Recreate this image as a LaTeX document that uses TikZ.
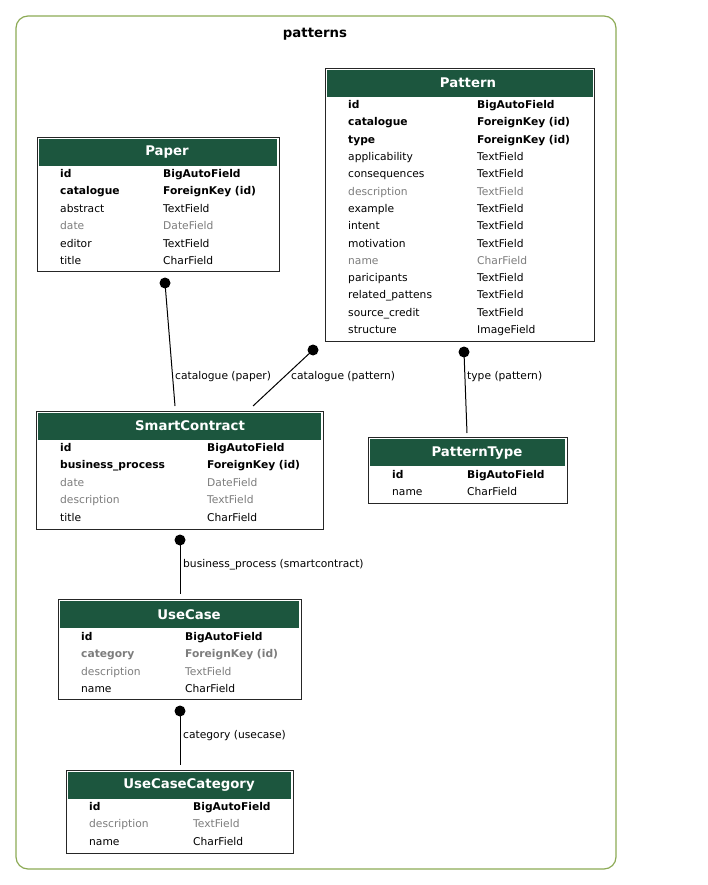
\documentclass[tikz,border=0pt]{standalone}
\usepackage{fontspec}
\setmainfont{DejaVu Sans}
\definecolor{hdrgreen}{RGB}{28,86,62}
\definecolor{clustergreen}{RGB}{140,170,85}
\definecolor{fadegray}{RGB}{125,125,125}
\tikzset{
  tbl/.style = {draw=black!85, line width=1pt, fill=white, inner sep=0pt, anchor=north west},
  hdr/.style = {fill=hdrgreen, inner sep=0pt, anchor=north west, minimum height=27pt},
  title/.style = {text=white, yshift=-1pt, font=\fontsize{13.3}{15}\selectfont\bfseries},
  fld/.style = {anchor=mid west, inner sep=0pt, yshift=-1.8pt, font=\fontsize{10.7}{12}\selectfont},
  key/.style = {fld, font=\fontsize{10.7}{12}\selectfont\bfseries},
  opt/.style = {fld, text=fadegray},
  optkey/.style = {key, text=fadegray},
  dotend/.style = {circle, fill=black, inner sep=0pt, minimum size=11pt},
  lbl/.style = {anchor=mid west, inner sep=0pt, yshift=-1.8pt, font=\fontsize{10.7}{12}\selectfont},
  link/.style = {line width=1pt}
}
\begin{document}
\begin{tikzpicture}[x=1pt, y=-1pt]
  \useasboundingbox (0,0) rectangle (707,885);
  % cluster
  \draw[clustergreen, line width=1.2pt, rounded corners=12pt] (16,16) rectangle (616,869);
  \node[font=\fontsize{13.3}{15}\selectfont\bfseries] (cluster) at (315,34) {patterns};

  % Pattern
  \node[tbl, minimum width=269pt, minimum height=273pt] (pattern) at (325,68) {};
  \node[hdr, minimum width=266pt] (pattern-h) at (327,70) {};
  \node[title] (pattern-t) at (468,82) {Pattern};
  \foreach \n/\t/\s [count=\i] in {id/BigAutoField/key, catalogue/ForeignKey (id)/key,
      type/ForeignKey (id)/key, applicability/TextField/fld, consequences/TextField/fld,
      description/TextField/opt, example/TextField/fld, intent/TextField/fld,
      motivation/TextField/fld, name/CharField/opt, paricipants/TextField/fld,
      related\_pattens/TextField/fld, source\_credit/TextField/fld, structure/ImageField/fld}
  {
    \node[\s] (pattern-n\i) at (348,{104+(\i-1)*17.31}) {\n};
    \node[\s] (pattern-f\i) at (477,{104+(\i-1)*17.31}) {\t};
  }

  % Paper
  \node[tbl, minimum width=242pt, minimum height=134pt] (paper) at (37,137) {};
  \node[hdr, minimum width=238pt] (paper-h) at (39,139) {};
  \node[title] (paper-t) at (167,151) {Paper};
  \foreach \n/\t/\s [count=\i] in {id/BigAutoField/key, catalogue/ForeignKey (id)/key,
      abstract/TextField/fld, date/DateField/opt, editor/TextField/fld, title/CharField/fld}
  {
    \node[\s] (paper-n\i) at (60,{173+(\i-1)*17.4}) {\n};
    \node[\s] (paper-f\i) at (163,{173+(\i-1)*17.4}) {\t};
  }

  % SmartContract
  \node[tbl, minimum width=287pt, minimum height=118pt] (smart) at (36,411) {};
  \node[hdr, minimum width=283pt] (smart-h) at (38,413) {};
  \node[title] (smart-t) at (190,425) {SmartContract};
  \foreach \n/\t/\s [count=\i] in {id/BigAutoField/key, business\_process/ForeignKey (id)/key,
      date/DateField/opt, description/TextField/opt, title/CharField/fld}
  {
    \node[\s] (smart-n\i) at (60,{447+(\i-1)*17.4}) {\n};
    \node[\s] (smart-f\i) at (207,{447+(\i-1)*17.4}) {\t};
  }

  % PatternType
  \node[tbl, minimum width=199pt, minimum height=66pt] (ptype) at (368,437) {};
  \node[hdr, minimum width=195pt] (ptype-h) at (370,439) {};
  \node[title] (ptype-t) at (477,452) {PatternType};
  \foreach \n/\t/\s [count=\i] in {id/BigAutoField/key, name/CharField/fld}
  {
    \node[\s] (ptype-n\i) at (392,{474+(\i-1)*17.4}) {\n};
    \node[\s] (ptype-f\i) at (467,{474+(\i-1)*17.4}) {\t};
  }

  % UseCase
  \node[tbl, minimum width=243pt, minimum height=100pt] (usecase) at (58,599) {};
  \node[hdr, minimum width=239pt] (usecase-h) at (60,601) {};
  \node[title] (usecase-t) at (189,614) {UseCase};
  \foreach \n/\t/\s [count=\i] in {id/BigAutoField/key, category/ForeignKey (id)/optkey,
      description/TextField/opt, name/CharField/fld}
  {
    \node[\s] (usecase-n\i) at (81,{636+(\i-1)*17.4}) {\n};
    \node[\s] (usecase-f\i) at (185,{636+(\i-1)*17.4}) {\t};
  }

  % UseCaseCategory
  \node[tbl, minimum width=227pt, minimum height=83pt] (ucc) at (66,770) {};
  \node[hdr, minimum width=223pt] (ucc-h) at (68,772) {};
  \node[title] (ucc-t) at (189,784) {UseCaseCategory};
  \foreach \n/\t/\s [count=\i] in {id/BigAutoField/key, description/TextField/opt,
      name/CharField/fld}
  {
    \node[\s] (ucc-n\i) at (89,{806+(\i-1)*17.4}) {\n};
    \node[\s] (ucc-f\i) at (193,{806+(\i-1)*17.4}) {\t};
  }

  % relations
  \node[dotend] (paper-d) at (165,283) {};
  \node[dotend] (pattern-d) at (313,350) {};
  \node[dotend] (ptype-d) at (464,352) {};
  \node[dotend] (smart-d) at (180,540) {};
  \node[dotend] (usecase-d) at (180,711) {};
  \coordinate (smart-a) at (175,406);
  \coordinate (smart-b) at (253,406);
  \coordinate (ptype-a) at (467,433);
  \coordinate (usecase-a) at (180,594);
  \coordinate (ucc-a) at (180,765);

  \draw[link] (paper-d.center) -- (smart-a);
  \draw[link] (pattern-d.center) -- (smart-b);
  \draw[link] (ptype-d.center) -- (ptype-a);
  \draw[link] (smart-d.center) -- (usecase-a);
  \draw[link] (usecase-d.center) -- (ucc-a);

  \node[lbl] (l1) at (175,375) {catalogue (paper)};
  \node[lbl] (l2) at (291,375) {catalogue (pattern)};
  \node[lbl] (l3) at (467,375) {type (pattern)};
  \node[lbl] (l4) at (183,563) {business\_process (smartcontract)};
  \node[lbl] (l5) at (183,734) {category (usecase)};
\end{tikzpicture}
\end{document}
